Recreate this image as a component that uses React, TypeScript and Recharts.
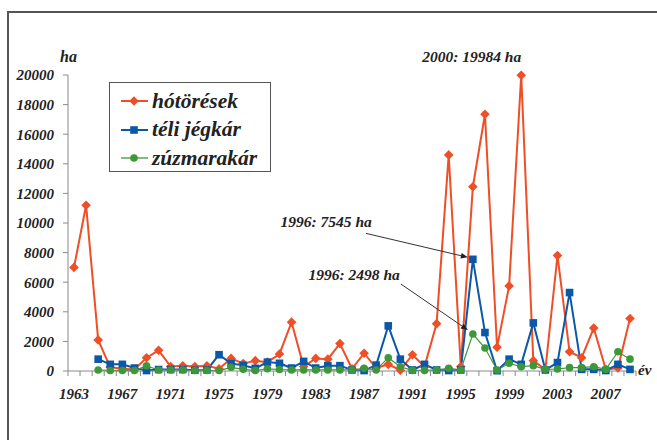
import React from 'react';
import { LineChart, Line, XAxis, YAxis, Legend, ReferenceDot } from 'recharts';

// évek 1963-2009
const years = [
  1963, 1964, 1965, 1966, 1967, 1968, 1969, 1970, 1971, 1972, 1973, 1974, 1975, 1976, 1977, 1978,
  1979, 1980, 1981, 1982, 1983, 1984, 1985, 1986, 1987, 1988, 1989, 1990, 1991, 1992, 1993, 1994,
  1995, 1996, 1997, 1998, 1999, 2000, 2001, 2002, 2003, 2004, 2005, 2006, 2007, 2008, 2009,
];

const hotoresek = [
  7000, 11200, 2100, 250, 150, 100, 900, 1400, 300, 350, 300, 350, 150, 850, 500, 700,
  600, 1150, 3300, 300, 850, 800, 1850, 150, 1200, 200, 450, 50, 1100, 300, 3200, 14600,
  300, 12450, 17350, 1600, 5750, 19984, 700, 100, 7800, 1300, 900, 2900, 100, 200, 3550,
];

const teliJegkar = [
  null, null, 800, 450, 450, 200, 30, 100, 100, 100, 50, 70, 1100, 500, 380, 180,
  600, 520, 200, 650, 200, 360, 360, 70, 30, 400, 3050, 800, 70, 450, 70, 30,
  70, 7545, 2600, 20, 800, 450, 3250, 70, 570, 5300, 110, 110, 30, 450, 110,
];

const zuzmarakar = [
  null, null, 70, 30, 30, 30, 350, 70, 70, 70, 30, 30, 30, 250, 110, 30,
  150, 100, 70, 70, 70, 70, 70, 70, 180, 70, 900, 290, 40, 40, 70, 180,
  70, 2498, 1550, 70, 520, 290, 360, 110, 135, 225, 225, 290, 110, 1300, 800,
];

const yTicks = [0, 2000, 4000, 6000, 8000, 10000, 12000, 14000, 16000, 18000, 20000];
const labelYears = [1963, 1967, 1971, 1975, 1979, 1983, 1987, 1991, 1995, 1999, 2003, 2007];

const RED = '#EF4E26';
const BLUE = '#0B58A8';
const GREEN = '#3D983A';
const GREY = '#8a8a8a';
const SERIF = '"Liberation Serif", "Times New Roman", serif';

const data = years.map((year, i) => ({
  year,
  hot: hotoresek[i],
  teli: teliJegkar[i],
  zuz: zuzmarakar[i],
}));

const legendItems = [
  { name: 'hótörések', color: RED, shape: 'diamond' },
  { name: 'téli jégkár', color: BLUE, shape: 'square' },
  { name: 'zúzmarakár', color: GREEN, shape: 'circle' },
];

const textStyle = (size: number) => ({
  fontFamily: SERIF,
  fontWeight: 'bold' as const,
  fontStyle: 'italic' as const,
  fontSize: size,
});

function Marker({ cx, cy, shape, color }: any) {
  if (cx == null || cy == null) return null;
  if (shape === 'diamond') {
    const s = 4.8;
    return <polygon points={`${cx},${cy - s} ${cx + s},${cy} ${cx},${cy + s} ${cx - s},${cy}`} fill={color} />;
  }
  if (shape === 'square') {
    return <rect x={cx - 3.8} y={cy - 3.8} width={7.6} height={7.6} fill={color} />;
  }
  return <circle cx={cx} cy={cy} r={3.8} fill={color} />;
}

const dotFor = (shape: string, color: string) => (props: any) => (
  <Marker key={`${shape}-${props.index}`} cx={props.cx} cy={props.cy} shape={shape} color={color} />
);

function YearTick(props: any) {
  const { x, y, payload, index } = props;
  const axisW = props.width || 568;
  const half = axisW / years.length / 2;
  return (
    <g>
      <line x1={x - half} x2={x - half} y1={y} y2={y + 5} stroke={GREY} />
      {index === years.length - 1 && <line x1={x + half} x2={x + half} y1={y} y2={y + 5} stroke={GREY} />}
      {labelYears.includes(payload.value) && (
        <text x={x} y={y + 28} textAnchor="middle" fill="#222" style={textStyle(15)}>
          {payload.value}
        </text>
      )}
    </g>
  );
}

function LegendBox() {
  return (
    <div
      style={{
        ...textStyle(21.5),
        border: '1px solid #555',
        background: '#fff',
        width: 162,
        height: 90,
        boxSizing: 'border-box',
        paddingTop: 4,
        paddingLeft: 10,
        color: '#222',
      }}
    >
      {legendItems.map((it) => (
        <div key={it.name} style={{ display: 'flex', alignItems: 'center', height: 28.5 }}>
          <svg width={30} height={14} style={{ marginRight: 2 }}>
            <line x1={1} x2={28} y1={7} y2={7} stroke={it.color} strokeWidth={it.shape === 'circle' ? 1.3 : 2} />
            <Marker cx={14} cy={7} shape={it.shape} color={it.color} />
          </svg>
          <span>{it.name}</span>
        </div>
      ))}
    </div>
  );
}

// felirat + nyíl az adott ponthoz
const callout = (text: string, tx: number, ty: number, arrow?: number[]) => (props: any) => {
  const vb = props.viewBox || {};
  const cx = vb.x + (vb.width || 0) / 2;
  const cy = vb.y + (vb.height || 0) / 2;
  let arrowEls = null;
  if (arrow) {
    const [sx, sy, ex, ey] = [cx + arrow[0], cy + arrow[1], cx + arrow[2], cy + arrow[3]];
    const ang = Math.atan2(ey - sy, ex - sx);
    const L = 7;
    const W = 2.8;
    const bx = ex - L * Math.cos(ang);
    const by = ey - L * Math.sin(ang);
    const p1 = `${bx + W * Math.sin(ang)},${by - W * Math.cos(ang)}`;
    const p2 = `${bx - W * Math.sin(ang)},${by + W * Math.cos(ang)}`;
    arrowEls = (
      <g>
        <line x1={sx} y1={sy} x2={bx} y2={by} stroke="#333" strokeWidth={1} />
        <polygon points={`${ex},${ey} ${p1} ${p2}`} fill="#222" />
      </g>
    );
  }
  return (
    <g>
      {arrowEls}
      <text x={cx + tx} y={cy + ty} textAnchor="end" fill="#222" style={textStyle(15.5)}>
        {text}
      </text>
    </g>
  );
};

export default function App() {
  return (
    <div style={{ position: 'absolute', left: 0, top: 0, width: 657, height: 440, overflow: 'hidden', background: '#fff' }}>
      <div
        style={{
          position: 'absolute',
          left: 7,
          top: 11,
          width: 700,
          height: 500,
          border: '2px solid #555',
          boxSizing: 'border-box',
        }}
      />
      <div style={{ position: 'absolute', left: 0, top: 0 }}>
        <LineChart width={657} height={440} data={data} margin={{ top: 75, right: 21, bottom: 39, left: 8 }}>
          <XAxis
            dataKey="year"
            type="category"
            interval={0}
            padding={{ left: 6, right: 6 }}
            axisLine={{ stroke: GREY }}
            tickLine={false}
            tickSize={0}
            tickMargin={0}
            tick={<YearTick />}
          />
          <YAxis
            domain={[0, 20000]}
            ticks={yTicks}
            width={60}
            interval={0}
            axisLine={{ stroke: GREY }}
            tickLine={{ stroke: GREY }}
            tickSize={5}
            tickMargin={9}
            tick={{ fill: '#222', ...textStyle(15) }}
          />
          <Legend
            layout="vertical"
            align="center"
            verticalAlign="middle"
            content={<LegendBox />}
            wrapperStyle={{ left: 109, top: 82, width: 162 }}
          />
          <Line
            dataKey="hot"
            name="hótörések"
            stroke={RED}
            strokeWidth={2}
            dot={dotFor('diamond', RED)}
            activeDot={false}
            isAnimationActive={false}
          />
          <Line
            dataKey="teli"
            name="téli jégkár"
            stroke={BLUE}
            strokeWidth={2}
            dot={dotFor('square', BLUE)}
            activeDot={false}
            isAnimationActive={false}
          />
          <Line
            dataKey="zuz"
            name="zúzmarakár"
            stroke={GREEN}
            strokeWidth={1.2}
            dot={dotFor('circle', GREEN)}
            activeDot={false}
            isAnimationActive={false}
          />
          <ReferenceDot x={2000} y={19984} r={0} fill="none" stroke="none" label={callout('2000: 19984 ha', 0, -13)} />
          <ReferenceDot
            x={1996}
            y={7545}
            r={0}
            fill="none"
            stroke="none"
            label={callout('1996: 7545 ha', -101, -32, [-107, -26, -5, -2])}
          />
          <ReferenceDot
            x={1996}
            y={2498}
            r={0}
            fill="none"
            stroke="none"
            label={callout('1996: 2498 ha', -73, -54, [-72, -50, -5, -4])}
          />
        </LineChart>
      </div>
      <div style={{ position: 'absolute', left: 60, top: 48, color: '#222', ...textStyle(16) }}>ha</div>
      <div style={{ position: 'absolute', left: 638, top: 362, color: '#222', ...textStyle(15) }}>év</div>
    </div>
  );
}
